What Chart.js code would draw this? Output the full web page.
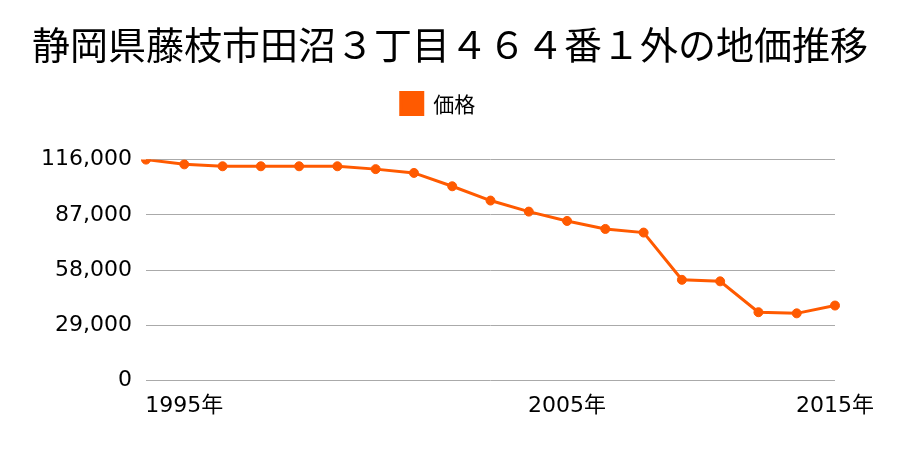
<!DOCTYPE html>
<html>
<head>
<meta charset="utf-8">
<script src="https://cdn.jsdelivr.net/npm/chart.js@4/dist/chart.umd.min.js"></script>
<style>
html,body{margin:0;padding:0;background:#fff;}
#wrap{width:900px;height:450px;}
</style>
</head>
<body>
<div id="wrap"><canvas id="c" width="900" height="450"></canvas></div>
<script>
const titleText = "静岡県藤枝市田沼３丁目４６４番１外の地価推移";
const seriesName = "価格";
const categories = ["1994","1995","1996","1997","1998","1999","2000","2001","2002","2003","2004","2005","2006","2007","2008","2009","2010","2012","2015"];
const xTickLabels = ["","1995年","","","","","","","","","","2005年","","","","","","","2015年"];
const prices = [116000,113500,112500,112500,112500,112500,111000,109000,102000,94500,88700,83800,79600,77700,52900,52100,35900,35300,39400];
const yTicks = [0,29000,58000,87000,116000];

const FONT = "'Noto Sans CJK JP','Noto Sans',sans-serif";
const NUMFONT = "'DejaVu Sans','Noto Sans CJK JP',sans-serif";
Chart.defaults.font.family = FONT;
Chart.defaults.color = "#000";

const headerLayout = {
  id: "headerLayout",
  beforeInit(chart) {
    const orig = chart.legend.fit;
    chart.legend.fit = function () {
      orig.bind(chart.legend)();
      this.height += 35;
    };
  },
  afterLayout(chart) {
    const t = chart.titleBlock;
    t.left = 0; t.right = chart.width; t.width = chart.width;
    const l = chart.legend;
    l.left = 0; l.right = 876; l.width = 876;
    if (l.adjustHitBoxes) l.adjustHitBoxes();
  }
};

new Chart(document.getElementById("c"), {
  type: "line",
  data: {
    labels: categories,
    datasets: [{
      label: seriesName,
      data: prices,
      borderColor: "#ff5a00",
      backgroundColor: "#ff5a00",
      pointBackgroundColor: "#ff5a00",
      pointBorderColor: "#ff5a00",
      borderWidth: 3,
      pointRadius: 4.5,
      pointBorderWidth: 1,
      tension: 0,
      fill: false
    }]
  },
  plugins: [headerLayout],
  options: {
    responsive: false,
    animation: false,
    layout: { padding: { left: 0, right: 65, top: 12, bottom: 27 } },
    plugins: {
      title: {
        display: true,
        text: titleText,
        font: { size: 38, weight: "normal", family: FONT },
        color: "#000",
        padding: { top: 10, bottom: 15 }
      },
      legend: {
        display: true,
        labels: {
          boxWidth: 22,
          boxHeight: 22,
          font: { size: 21, family: FONT },
          color: "#000",
          padding: 10
        }
      },
      tooltip: { enabled: false }
    },
    scales: {
      x: {
        offset: false,
        grid: { display: false },
        border: { display: false },
        ticks: {
          autoSkip: false,
          maxRotation: 0,
          font: { size: 22, family: NUMFONT },
          color: "#000",
          padding: 4,
          callback: (v, i) => xTickLabels[i]
        }
      },
      y: {
        min: 0,
        max: 116000,
        afterBuildTicks: (s) => { s.ticks = yTicks.map(v => ({ value: v })); },
        afterFit: (s) => { s.width = 146; },
        grid: { color: "#aaaaaa", lineWidth: 1, drawTicks: false },
        border: { display: false },
        ticks: {
          font: { size: 22, family: NUMFONT },
          color: "#000",
          padding: 14,
          callback: (v) => v.toLocaleString("en-US")
        }
      }
    }
  }
});
</script>
</body>
</html>
